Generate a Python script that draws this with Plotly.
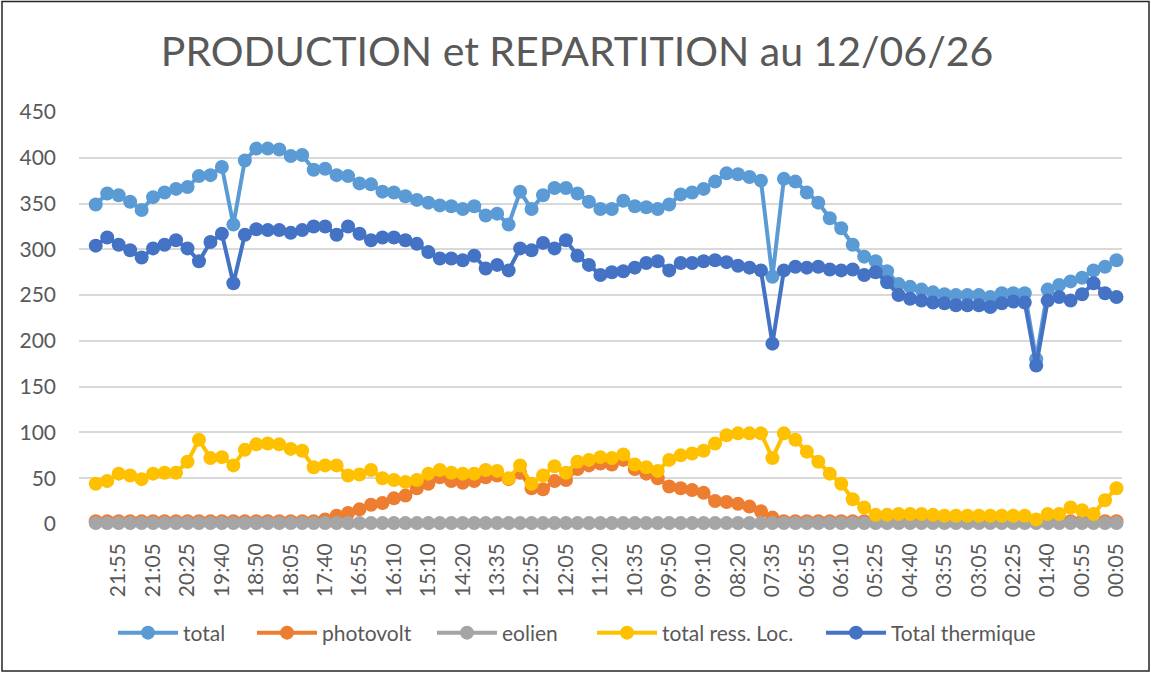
import plotly.graph_objects as go

tick_labels = ["21:55", "21:05", "20:25", "19:40", "18:50", "18:05", "17:40", "16:55", "16:10", "15:10",
               "14:20", "13:35", "12:50", "12:05", "11:20", "10:35", "09:50", "09:10", "08:20", "07:35",
               "06:55", "06:10", "05:25", "04:40", "03:55", "03:05", "02:25", "01:40", "00:55", "00:05"]

total = [349, 361, 359, 352, 343, 357, 362, 366, 368, 380,
         381, 390, 327, 397, 410, 410, 409, 402, 403, 387,
         388, 381, 380, 372, 371, 363, 362, 358, 354, 351,
         348, 347, 344, 347, 337, 339, 327, 363, 344, 359,
         367, 367, 361, 352, 344, 344, 353, 347, 346, 344,
         349, 360, 362, 366, 374, 383, 382, 379, 375, 270,
         377, 374, 362, 351, 334, 323, 305, 292, 287, 276,
         262, 259, 256, 253, 251, 250, 250, 250, 248, 252,
         252, 252, 180, 256, 261, 265, 269, 277, 281, 288]

photovolt = [3, 3, 3, 3, 3, 3, 3, 3, 3, 3,
             3, 3, 3, 3, 3, 3, 3, 3, 3, 3,
             5, 9, 12, 16, 21, 23, 28, 31, 39, 44,
             51, 47, 45, 47, 51, 53, 49, 56, 39, 38,
             47, 48, 60, 64, 66, 65, 70, 60, 55, 50,
             41, 39, 37, 34, 25, 24, 22, 19, 14, 7,
             3, 3, 3, 3, 3, 3, 3, 3, 3, 3,
             3, 3, 3, 3, 3, 3, 3, 3, 3, 3,
             3, 3, 3, 3, 3, 3, 3, 3, 3, 3]

eolien = [1, 1, 1, 1, 1, 1, 1, 1, 1, 1,
          1, 1, 1, 1, 1, 1, 1, 1, 1, 1,
          1, 1, 1, 1, 1, 1, 1, 1, 1, 1,
          1, 1, 1, 1, 1, 1, 1, 1, 1, 1,
          1, 1, 1, 1, 1, 1, 1, 1, 1, 1,
          1, 1, 1, 1, 1, 1, 1, 1, 1, 1,
          1, 1, 1, 1, 1, 1, 1, 1, 1, 1,
          1, 1, 1, 1, 1, 1, 1, 1, 1, 1,
          1, 1, 1, 1, 1, 1, 1, 1, 1, 1]

ress_loc = [44, 47, 55, 53, 49, 55, 56, 56, 68, 92,
            72, 73, 64, 81, 87, 88, 87, 82, 80, 62,
            64, 64, 53, 54, 59, 50, 48, 46, 48, 55,
            59, 56, 55, 55, 59, 58, 50, 64, 44, 53,
            63, 56, 68, 70, 73, 72, 76, 65, 62, 58,
            70, 75, 77, 80, 88, 97, 99, 99, 99, 72,
            99, 92, 79, 68, 55, 44, 27, 18, 10, 10,
            11, 11, 11, 10, 9, 9, 9, 9, 9, 9,
            9, 9, 5, 11, 11, 18, 15, 11, 26, 39]

thermique = [304, 313, 305, 299, 291, 301, 305, 310, 301, 287,
             308, 317, 263, 316, 322, 321, 321, 318, 321, 325,
             325, 316, 325, 317, 310, 313, 313, 310, 306, 297,
             290, 290, 288, 293, 279, 283, 277, 301, 299, 307,
             301, 310, 293, 283, 272, 275, 276, 280, 285, 287,
             277, 285, 285, 287, 288, 286, 282, 280, 277, 197,
             277, 281, 280, 281, 278, 277, 278, 272, 275, 264,
             250, 246, 244, 242, 241, 239, 239, 239, 237, 241,
             243, 242, 173, 244, 248, 244, 251, 263, 252, 248]

series = [("total", total, "#5B9BD5"),
          ("photovolt", photovolt, "#ED7D31"),
          ("eolien", eolien, "#A5A5A5"),
          ("total ress. Loc.", ress_loc, "#FFC000"),
          ("Total thermique", thermique, "#4472C4")]

# left edge (px) of each legend entry, as laid out in the reference
legend_left_px = [113, 252, 432, 592, 821]

x = list(range(len(total)))
tick_pos = list(range(2, len(total), 3))

FONT = "Lato"
W, H = 1151, 673
ML, MR, MT, MB = 79, 29, 112, 149
PW, PH = W - ML - MR, H - MT - MB

fig = go.Figure()
legend_layouts = {}
for k, (name, vals, col) in enumerate(series):
    lid = "legend" if k == 0 else f"legend{k + 1}"
    fig.add_trace(go.Scatter(
        x=x, y=vals, name=name, mode="lines+markers",
        line=dict(color=col, width=4),
        marker=dict(color=col, size=14, line=dict(width=0)),
        cliponaxis=False, legend=lid,
    ))
    legend_layouts[lid] = dict(
        orientation="h", x=(legend_left_px[k] - ML) / PW, xanchor="left",
        y=(MT + PH - 633) / PH, yanchor="middle",
        font=dict(family=FONT, size=21, color="#595959"),
        itemwidth=60, bgcolor="rgba(0,0,0,0)")

fig.update_layout(
    width=W, height=H,
    template="plotly_white",
    paper_bgcolor="white", plot_bgcolor="white",
    margin=dict(l=ML, r=MR, t=MT, b=MB, autoexpand=False),
    font=dict(family=FONT, color="#595959", size=21),
    title=dict(text="PRODUCTION et REPARTITION au 12/06/26",
               x=(577 - ML) / PW, xref="paper", xanchor="center",
               y=1 - 52 / H, yanchor="middle",
               font=dict(family=FONT, size=41, color="#595959")),
    xaxis=dict(range=[-1.46, 89.48], tickmode="array", tickvals=tick_pos,
               ticktext=tick_labels, tickangle=-90, showgrid=False,
               zeroline=False, showline=False, ticks="", automargin=False,
               ticklabelstandoff=14,
               tickfont=dict(family=FONT, size=21, color="#595959")),
    yaxis=dict(range=[0, 450], dtick=50, showgrid=True, gridcolor="#D9D9D9",
               gridwidth=1.5, zeroline=False, showline=False, ticks="",
               automargin=False, ticklabelstandoff=22,
               tickfont=dict(family=FONT, size=21, color="#595959")),
    showlegend=True,
    shapes=[dict(type="rect", xref="paper", yref="paper",
                 x0=(2 - ML) / PW, x1=(1149 - ML) / PW,
                 y0=(MT + PH - 671) / PH, y1=(MT + PH - 1.5) / PH,
                 line=dict(color="#262626", width=1.5), layer="below")],
    **legend_layouts,
)

fig.write_html("out.html", config={"displayModeBar": False},
               post_script="document.body.style.margin='0';")
